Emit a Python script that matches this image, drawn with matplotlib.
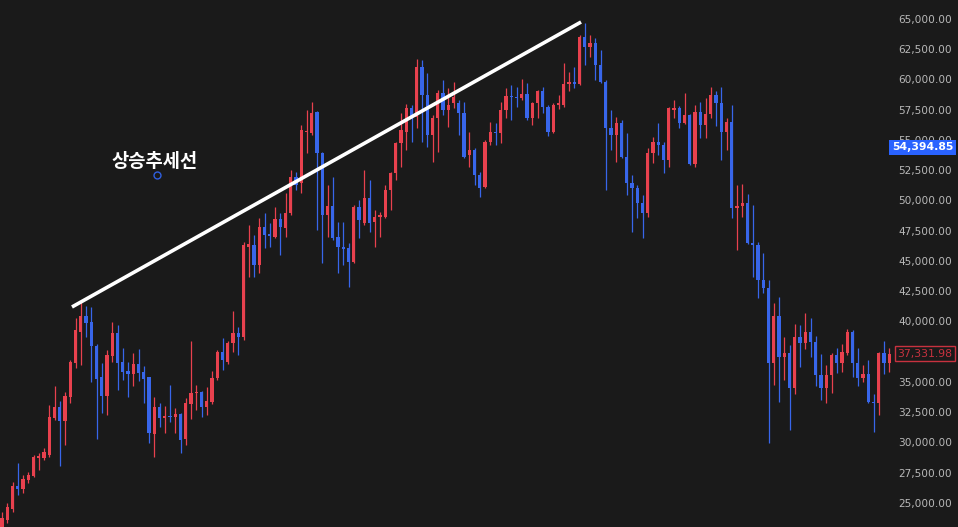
import matplotlib
matplotlib.use('Agg')
import matplotlib.pyplot as plt
import matplotlib.transforms as mtransforms
import numpy as np

opens = [22770, 23590, 24500, 26400, 26160, 26900, 27230, 28720, 28720, 28970,
         32020, 32930, 31780, 33760, 36570, 39130, 40450, 39960, 37970, 35410,
         33840, 37150, 39050, 36650, 35910, 35660, 36490, 35830, 35410, 30700,
         32930, 32020, 32190, 32110, 32360, 30290, 33180, 34090, 34170, 32930,
         33350, 35330, 37480, 36650, 38220, 39050, 38720, 46160, 46320, 44670,
         47810, 47230, 46980, 48470, 47730, 48970, 51940, 51450, 55660, 55580,
         57310, 53930, 48800, 49550, 46980, 46160, 46070, 44920, 49460, 48140,
         50210, 48220, 48640, 48640, 50870, 52270, 54750, 55660, 57640, 56900,
         61030, 58720, 55410, 56820, 58880, 57480, 58060, 58060, 57230, 53760,
         54170, 52110, 51120, 54830, 55660, 55580, 57480, 58640, 58550, 58470,
         58800, 56820, 58060, 59050, 57730, 55660, 57890, 57890, 59630, 59790,
         59630, 63510, 62690, 63020, 61200, 59790, 55990, 55410, 56400, 53590,
         51450, 51030, 49790, 48970, 53930, 54830, 54590, 53350, 57480, 57640,
         56400, 57070, 53020, 57310, 56240, 57150, 58720, 58060, 55660, 56490,
         49380, 49550, 49790, 46490, 46320, 43430, 42770, 36570, 40450, 37070,
         37400, 34500, 38720, 38220, 39130, 38310, 35580, 34500, 35580, 37230,
         36570, 37400, 39130, 36570, 35330, 35660, 33350, 33260, 37400, 36570]

highs = [24260, 25000, 26740, 28300, 27310, 27560, 28970, 29130, 29550, 33100,
         34670, 33430, 34170, 36820, 40290, 41610, 41280, 41200, 38140, 36570,
         37640, 39960, 39710, 37810, 36650, 37400, 37730, 36320, 35410, 33760,
         33260, 33020, 34750, 32850, 32440, 33680, 38390, 34750, 34260, 34590,
         35910, 37640, 38640, 38390, 40870, 39550, 46570, 47980, 47150, 48550,
         48970, 48140, 49460, 48970, 50620, 52520, 52360, 56240, 57480, 58140,
         57400, 54010, 51280, 51940, 48220, 48220, 46490, 49630, 50040, 52520,
         51690, 49220, 49050, 51280, 52360, 54830, 57230, 57970, 57890, 61690,
         61610, 60540, 57070, 59130, 59960, 59300, 59790, 58310, 58140, 55660,
         54340, 52360, 55000, 56490, 56400, 58140, 59300, 59550, 59380, 60040,
         59710, 58140, 59130, 59380, 57890, 58060, 58720, 61360, 60620, 61030,
         63680, 64670, 63680, 63430, 62440, 59960, 57480, 56900, 56650, 55580,
         52110, 51280, 50450, 54340, 55250, 56400, 54830, 57730, 58310, 57810,
         58880, 57150, 57890, 58140, 58470, 59380, 59050, 59380, 56820, 57890,
         51280, 51360, 50540, 49630, 46570, 45660, 43430, 41530, 42020, 38720,
         38060, 39790, 39710, 40700, 40290, 38800, 37310, 36400, 37400, 37810,
         38140, 39380, 39300, 37810, 36400, 36820, 34010, 37480, 38390, 37810]

lows = [22600, 23350, 24260, 25660, 25830, 26650, 27150, 27730, 28550, 28800,
        31860, 28060, 29790, 33260, 36160, 36400, 38720, 35000, 30290, 32440,
        32270, 36650, 34340, 35160, 33760, 34670, 35080, 33260, 29960, 28800,
        31280, 30790, 31690, 30790, 29130, 29790, 31940, 32690, 32110, 32270,
        33180, 35160, 35990, 36490, 37480, 37230, 38470, 43680, 43680, 44010,
        46070, 46160, 46900, 45500, 46980, 48800, 50870, 50620, 53930, 55410,
        47560, 44830, 46980, 46740, 44010, 44670, 42850, 44830, 46900, 47980,
        47400, 46160, 46980, 48550, 49220, 51690, 52770, 54170, 54830, 55990,
        54830, 54420, 53180, 54010, 57070, 56070, 57640, 55410, 53510, 52770,
        51280, 50290, 51030, 54590, 54590, 54750, 56820, 56650, 57730, 58310,
        56650, 56240, 56820, 57230, 55330, 55580, 57560, 57730, 59050, 59300,
        59550, 61200, 61860, 59960, 59710, 50870, 54170, 53180, 53510, 50450,
        47400, 48550, 46900, 48640, 53100, 53760, 52270, 52770, 56820, 55990,
        56320, 52930, 52770, 55160, 55160, 56820, 56160, 53350, 54170, 48550,
        45910, 48640, 46410, 43680, 41940, 42360, 29960, 34750, 33350, 35160,
        31030, 34010, 36240, 37730, 37070, 34670, 33510, 33260, 34090, 35740,
        35830, 37230, 35410, 34670, 35000, 33260, 30870, 32270, 35660, 35830]

closes = [23760, 24670, 26400, 26160, 26980, 27310, 28800, 28880, 29210, 32110,
          32930, 31780, 33840, 36650, 39300, 40450, 39880, 37970, 35250, 33840,
          37230, 39050, 36570, 35830, 35660, 36490, 35740, 35250, 30790, 32930,
          32020, 32190, 32110, 32360, 30210, 33260, 34090, 34170, 32930, 33430,
          35330, 37480, 36820, 38220, 39050, 38720, 46320, 46410, 44670, 47810,
          47150, 47070, 48470, 47810, 48970, 51940, 51280, 55830, 55740, 57230,
          53930, 48800, 49550, 46900, 46160, 45990, 44920, 49460, 48390, 50210,
          48140, 48640, 48800, 50870, 52270, 54750, 55830, 57640, 56980, 61030,
          58720, 55410, 56820, 58880, 57480, 57890, 58550, 57230, 53590, 54170,
          52110, 51030, 54830, 55660, 55580, 57480, 58640, 58550, 58470, 58800,
          56820, 58060, 59050, 57730, 55660, 57890, 58060, 59630, 59790, 59630,
          63510, 62690, 63020, 61200, 59790, 55990, 55410, 56400, 53590, 51450,
          51030, 49790, 48970, 53930, 54830, 54590, 53350, 57640, 57640, 56400,
          57070, 53020, 57310, 56240, 57150, 58720, 58060, 55660, 56490, 49380,
          49550, 49790, 46490, 46320, 43430, 42770, 36570, 40450, 37070, 37400,
          34500, 38720, 38220, 39130, 38310, 35580, 34500, 35580, 37230, 36570,
          37480, 39130, 36570, 35330, 35660, 33350, 33260, 37400, 36570, 37331.98]

tick_values = [25000, 27500, 30000, 32500, 35000, 37500, 40000, 42500, 45000,
               47500, 50000, 52500, 55000, 57500, 60000, 62500, 65000]
tick_labels = ['25,000.00', '27,500.00', '30,000.00', '32,500.00', '35,000.00',
               '37,500.00', '40,000.00', '42,500.00', '45,000.00', '47,500.00',
               '50,000.00', '52,500.00', '55,000.00', '57,500.00', '60,000.00',
               '62,500.00', '65,000.00']

trend_x = [13.33, 110.29]
trend_y = [41200, 64750]
label_text = '상승추세선'
label_pos = (29.14, 53220)
anchor_pos = (29.52, 52110)
marker_price = 54394.85
marker_label = '54,394.85'
last_price = 37331.98
last_label = '37,331.98'

BG = '#1a1a1a'
RED = '#e8414e'
BLUE = '#3866ea'

plt.rcParams['font.family'] = ['DejaVu Sans']

fig = plt.figure(figsize=(9.58, 5.27), dpi=100, facecolor=BG)
ax = fig.add_axes([0, 0, 893 / 958, 1])
ax.set_facecolor(BG)

o = np.array(opens, dtype=float)
h = np.array(highs, dtype=float)
l = np.array(lows, dtype=float)
c = np.array(closes, dtype=float)
idx = np.arange(len(c))
up = c >= o
cols = np.where(up, RED, BLUE)

ax.vlines(idx, l, h, colors=cols, linewidth=0.9, zorder=2)
body_bottom = np.minimum(o, c)
body_h = np.maximum(np.abs(c - o), 90)
ax.bar(idx, body_h, bottom=body_bottom, width=0.62, color=cols, linewidth=0, zorder=3)

ax.plot(trend_x, trend_y, color='white', linewidth=2.6, solid_capstyle='butt', zorder=4)
ax.text(label_pos[0], label_pos[1], label_text, family=['Noto Sans CJK KR', 'DejaVu Sans'],
        fontsize=13.5, fontweight='bold', color='white', ha='center', va='center', zorder=5)
ax.plot([anchor_pos[0]], [anchor_pos[1]], marker='o', markersize=5, markerfacecolor=BG,
        markeredgecolor='#2f5fe0', markeredgewidth=1.0, zorder=5)

ax.set_xlim(-0.381, 169.71)
ax.set_ylim(23016, 66570)
ax.set_xticks([])
ax.yaxis.tick_right()
ax.set_yticks(tick_values)
ax.set_yticklabels(tick_labels)
ax.tick_params(axis='y', length=0, pad=42.5, labelcolor='#b8b8b8', labelsize=7.6)
for lab in ax.get_yticklabels():
    lab.set_horizontalalignment('right')
for s in ax.spines.values():
    s.set_visible(False)

trans = mtransforms.blended_transform_factory(ax.transAxes, ax.transData)
ax.text(922.5 / 893, marker_price, marker_label, transform=trans, ha='center', va='center',
        color='white', fontsize=7.8, fontweight='bold',
        bbox=dict(boxstyle='square,pad=0.22', fc='#2962ff', ec='none'), clip_on=False, zorder=6)
ax.text(925 / 893, last_price, last_label, transform=trans, ha='center', va='center',
        color='#c8323f', fontsize=7.8,
        bbox=dict(boxstyle='square,pad=0.25', fc=BG, ec='#c8323f', lw=1.0), clip_on=False, zorder=6)

fig.savefig('out.png', dpi=100, facecolor=BG)
